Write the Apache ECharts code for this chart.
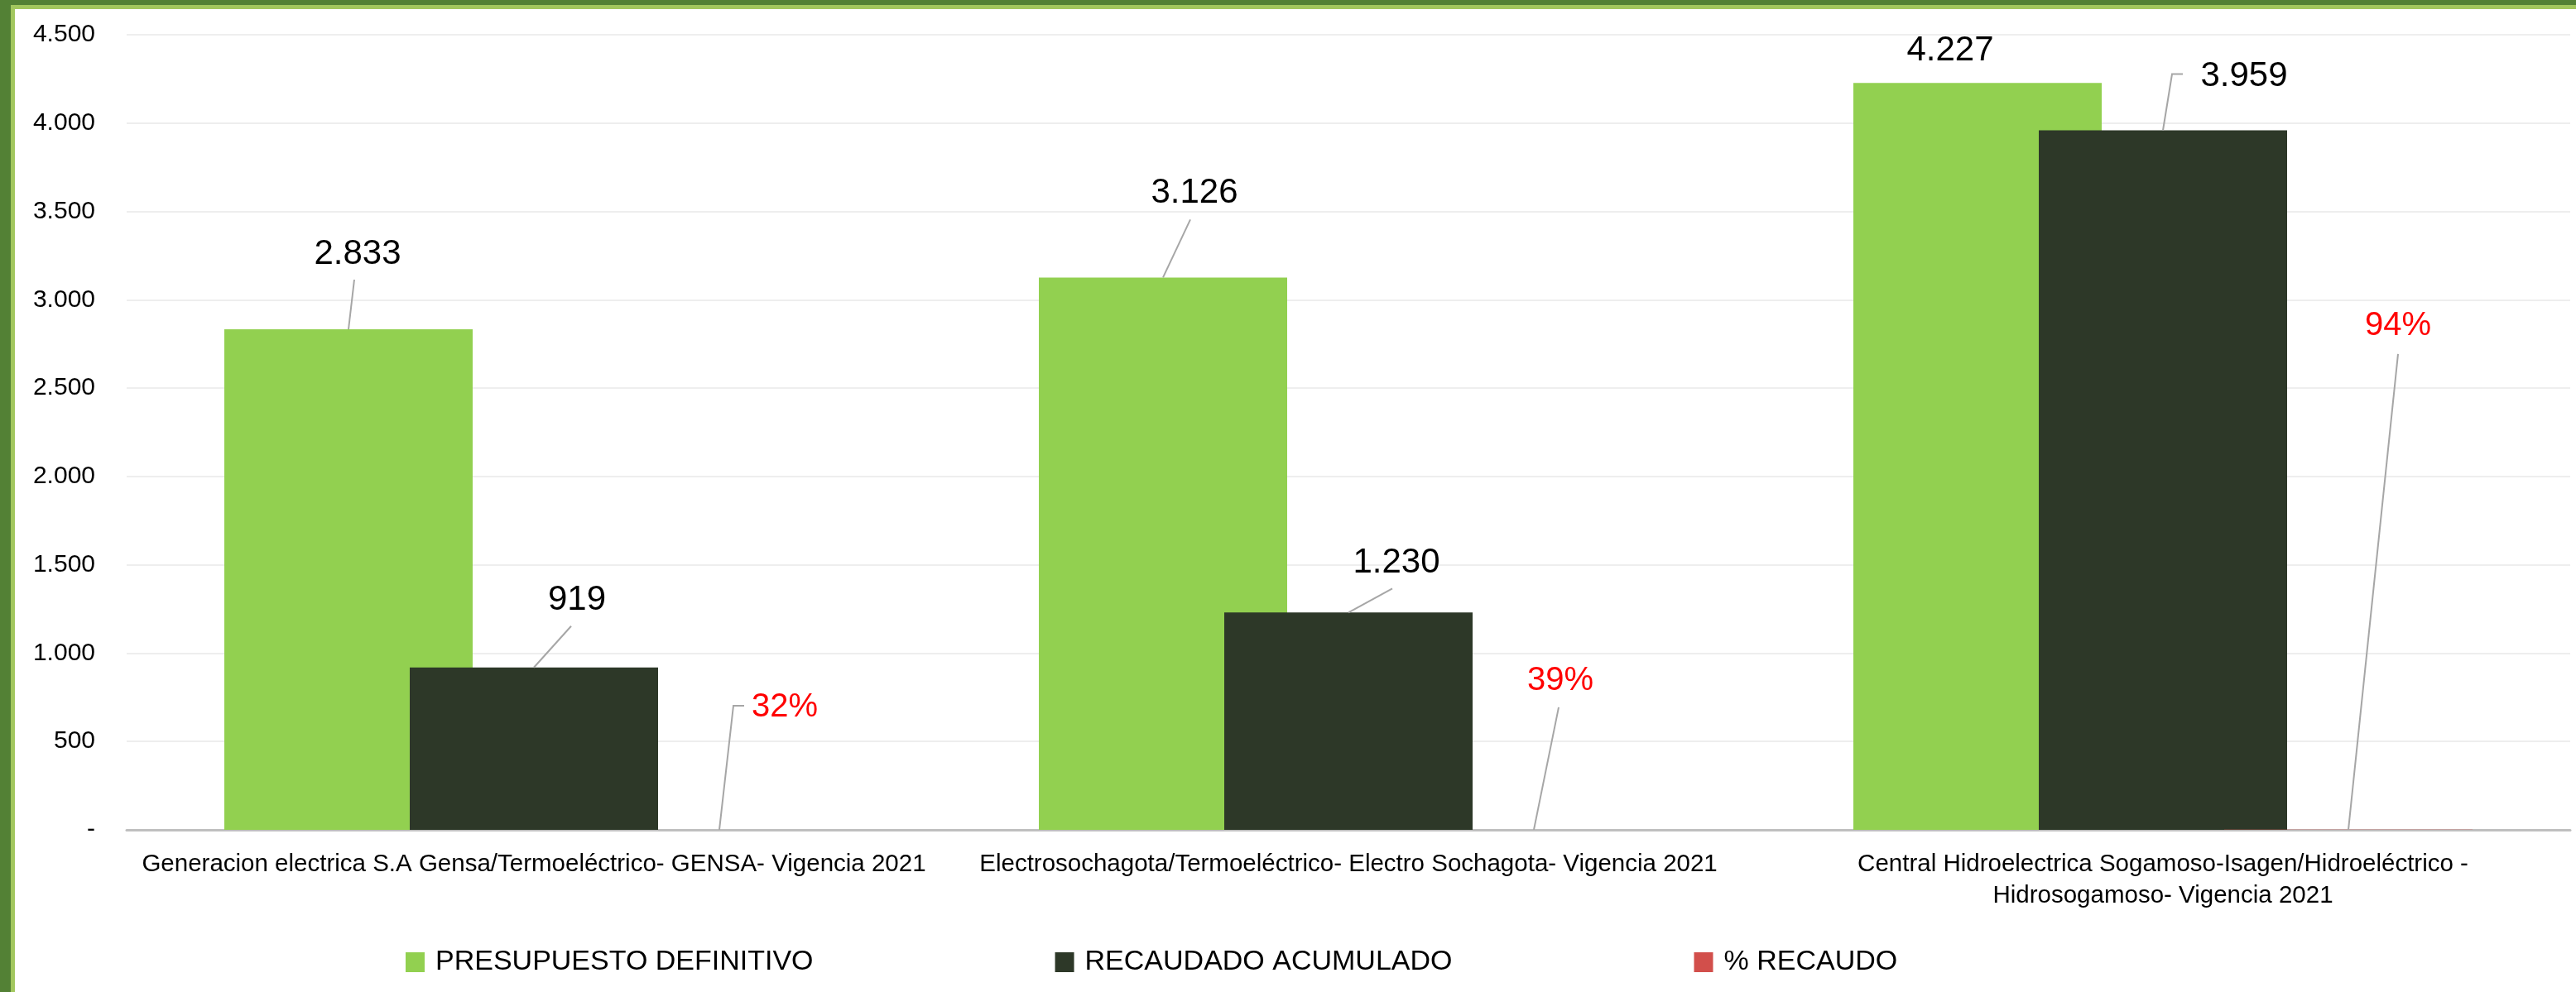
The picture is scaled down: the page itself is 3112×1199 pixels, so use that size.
<!DOCTYPE html>
<html>
<head>
<meta charset="utf-8">
<script src="https://cdn.jsdelivr.net/npm/echarts@6/dist/echarts.min.js"></script>
<style>
html, body { margin: 0; padding: 0; background: #fff; }
#main { position: absolute; left: 0; top: 0; width: 3112px; height: 1199px; }
.edgeDark { position: absolute; left: 0; top: 0; width: 3112px; height: 1199px; box-sizing: border-box;
  border-top: 6px solid #538135; border-left: 13px solid #538135; pointer-events: none; }
.edgeLight { position: absolute; left: 13px; top: 6px; width: 3099px; height: 1193px; box-sizing: border-box;
  border-top: 5px solid #a2c75e; border-left: 5px solid #a2c75e; pointer-events: none; }
</style>
</head>
<body>
<div id="main"></div>
<div class="edgeDark"></div>
<div class="edgeLight"></div>
<script>
var categories = [
    'Generacion electrica S.A Gensa/Termoeléctrico- GENSA- Vigencia 2021',
    'Electrosochagota/Termoeléctrico- Electro Sochagota- Vigencia 2021',
    'Central Hidroelectrica Sogamoso-Isagen/Hidroeléctrico -\nHidrosogamoso- Vigencia 2021'
];
var presupuesto = [2833, 3126, 4227];
var recaudado = [919, 1230, 3959];
var pctRecaudo = [0.32, 0.39, 0.94];
var seriesNames = ['PRESUPUESTO DEFINITIVO', 'RECAUDADO ACUMULADO', '% RECAUDO'];
var yMax = 4500, yStep = 500;

// desplazamiento de etiquetas (centro de la etiqueta respecto al tope de la barra)
var labelOffsets = [
    [[11, -91], [38, -102], [-33, -39]],
    [[52, -81], [58, -60], [98, -65]],
    [[79, -148], [32, -180], [60, -609]]
];
// lineas guia (puntos respecto al tope de la barra)
var leaderLines = [
    [[[7, -60]], [[33, -70]], null],
    [[[45, -50]], [[53, -29]], [[11, -68], [24, -68]]],
    [[[17, -150], [30, -150]], [[30, -148]], [[60, -575]]]
];

var font = "'Liberation Sans', Arial, sans-serif";
var barWidth = 300, barGapPx = -76;
var barStep = barWidth + barGapPx;

function miles(v) {
    return String(Math.round(v)).replace(/\B(?=(\d{3})+(?!\d))/g, '.');
}

function itemsOf(arr, s) {
    return arr.map(function (v, i) {
        return { value: v, label: { offset: labelOffsets[s][i] } };
    });
}

var leaderData = [];
[presupuesto, recaudado, pctRecaudo].forEach(function (arr, s) {
    arr.forEach(function (v, i) {
        if (leaderLines[s][i]) leaderData.push([i, v, s]);
    });
});

var barLabel = {
    show: true,
    position: 'top',
    distance: 0,
    align: 'center',
    verticalAlign: 'middle',
    fontSize: 42,
    fontFamily: font,
    color: '#000'
};

var myChart = echarts.init(document.getElementById('main'));
var option = {
    animation: false,
    backgroundColor: '#fff',
    legend: {
        data: seriesNames,
        left: 485,
        top: 1141,
        icon: 'rect',
        itemWidth: 23,
        itemHeight: 24,
        itemGap: 292,
        textStyle: { fontSize: 34, fontFamily: font, color: '#000', padding: [0, 0, 0, 8] }
    },
    grid: { left: 153, right: 7, top: 42, bottom: 196 },
    xAxis: {
        type: 'category',
        data: categories,
        axisTick: { show: false },
        axisLine: { lineStyle: { color: '#bfbfbf', width: 3 } },
        axisLabel: {
            interval: 0,
            margin: 23,
            fontSize: 29.5,
            lineHeight: 38,
            fontFamily: font,
            color: '#000',
            align: 'center'
        }
    },
    yAxis: {
        type: 'value',
        min: 0,
        max: yMax,
        interval: yStep,
        axisLine: { show: false },
        axisTick: { show: false },
        splitLine: { lineStyle: { color: '#eeeeee', width: 2 } },
        axisLabel: {
            margin: 38,
            fontSize: 30,
            fontFamily: font,
            color: '#000',
            formatter: function (v) { return v === 0 ? '-' : miles(v); }
        }
    },
    series: [
        {
            name: seriesNames[0],
            type: 'bar',
            barWidth: barWidth,
            barGap: (barGapPx / barWidth * 100) + '%',
            itemStyle: { color: '#92d050' },
            label: Object.assign({}, barLabel, { formatter: function (p) { return miles(p.value); } }),
            data: itemsOf(presupuesto, 0)
        },
        {
            name: seriesNames[1],
            type: 'bar',
            barWidth: barWidth,
            barGap: (barGapPx / barWidth * 100) + '%',
            itemStyle: { color: '#2d3828' },
            label: Object.assign({}, barLabel, { formatter: function (p) { return miles(p.value); } }),
            data: itemsOf(recaudado, 1)
        },
        {
            name: seriesNames[2],
            type: 'bar',
            barWidth: barWidth,
            barGap: (barGapPx / barWidth * 100) + '%',
            itemStyle: { color: '#d24f4b' },
            label: Object.assign({}, barLabel, {
                fontSize: 40,
                color: '#ff0000',
                formatter: function (p) { return Math.round(p.value * 100) + '%'; }
            }),
            data: itemsOf(pctRecaudo, 2)
        },
        {
            name: 'guia',
            type: 'custom',
            silent: true,
            z: 5,
            data: leaderData,
            renderItem: function (params, api) {
                var i = api.value(0), v = api.value(1), s = api.value(2);
                var p = api.coord([i, v]);
                var bx = p[0] + (s - 1) * barStep;
                var pts = [[bx, p[1]]].concat(leaderLines[s][i].map(function (d) {
                    return [bx + d[0], p[1] + d[1]];
                }));
                return {
                    type: 'polyline',
                    shape: { points: pts },
                    style: { stroke: '#a6a6a6', lineWidth: 2, fill: null }
                };
            }
        }
    ]
};
myChart.setOption(option);
</script>
</body>
</html>
